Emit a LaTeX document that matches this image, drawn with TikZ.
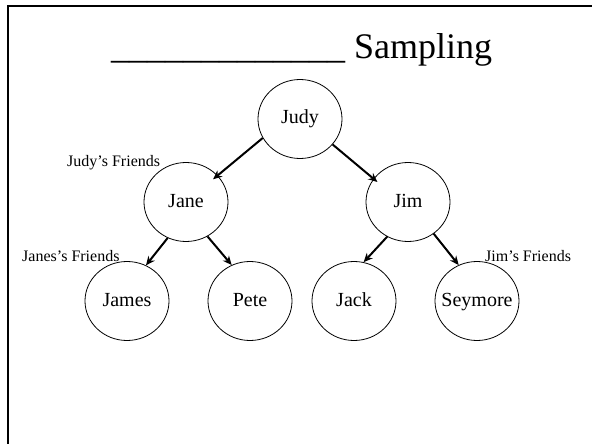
\documentclass[tikz,border=0pt]{standalone}
\usepackage{fontspec}
\setmainfont{Liberation Serif}
\usetikzlibrary{shapes.geometric,arrows.meta}

\begin{document}
\begin{tikzpicture}[
    x=1pt, y=-1pt,
    person/.style={ellipse, draw, line width=0.8pt, minimum width=84pt, minimum height=79pt, inner ysep=0pt, inner xsep=-14pt, text height=14pt, text depth=4pt, font=\fontsize{20}{24}\selectfont},
    friends/.style={anchor=base west, inner sep=0pt, font=\fontsize{16}{19}\selectfont},
    link/.style={line width=2pt, -{Stealth[length=9pt,width=8pt]}}
]
\useasboundingbox (0,0) rectangle (592,444);
\draw [line width=2.5pt] (8,444) -- (8,6) -- (592,6);
\node [anchor=base west, inner sep=0pt, font=\fontsize{36}{42}\selectfont] (title) at (111,59)
    {\_\_\_\_\_\_\_\_\_\_\_\_\_ Sampling};
% the people
\node [person] (judy) at (300,119) {Judy};
\node [person] (jane) at (186,202) {Jane};
\node [person] (jim) at (408,202) {Jim};
\node [person] (james) at (127,301) {James};
\node [person] (pete) at (250,301) {Pete};
\node [person] (jack) at (354,301) {Jack};
\node [person] (seymore) at (477,301) {Seymore};
% who knows whom
\draw [link, shorten >=-6pt] (judy.-153) -- (jane.40);
\draw [link, shorten >=-5pt] (judy.-38) -- (jim.146);
\draw [link] (jane.-117) -- (james.62);
\draw [link] (jane.-58) -- (pete.117);
\draw [link] (jim.-121) -- (jack.76);
\draw [link] (jim.-51) -- (seymore.117);
\node [friends] (judyf) at (67,166) {Judy’s Friends};
\node [friends] (janef) at (22,261) {Janes’s Friends};
\node [friends] (jimf) at (485,261) {Jim’s Friends};
\end{tikzpicture}
\end{document}
